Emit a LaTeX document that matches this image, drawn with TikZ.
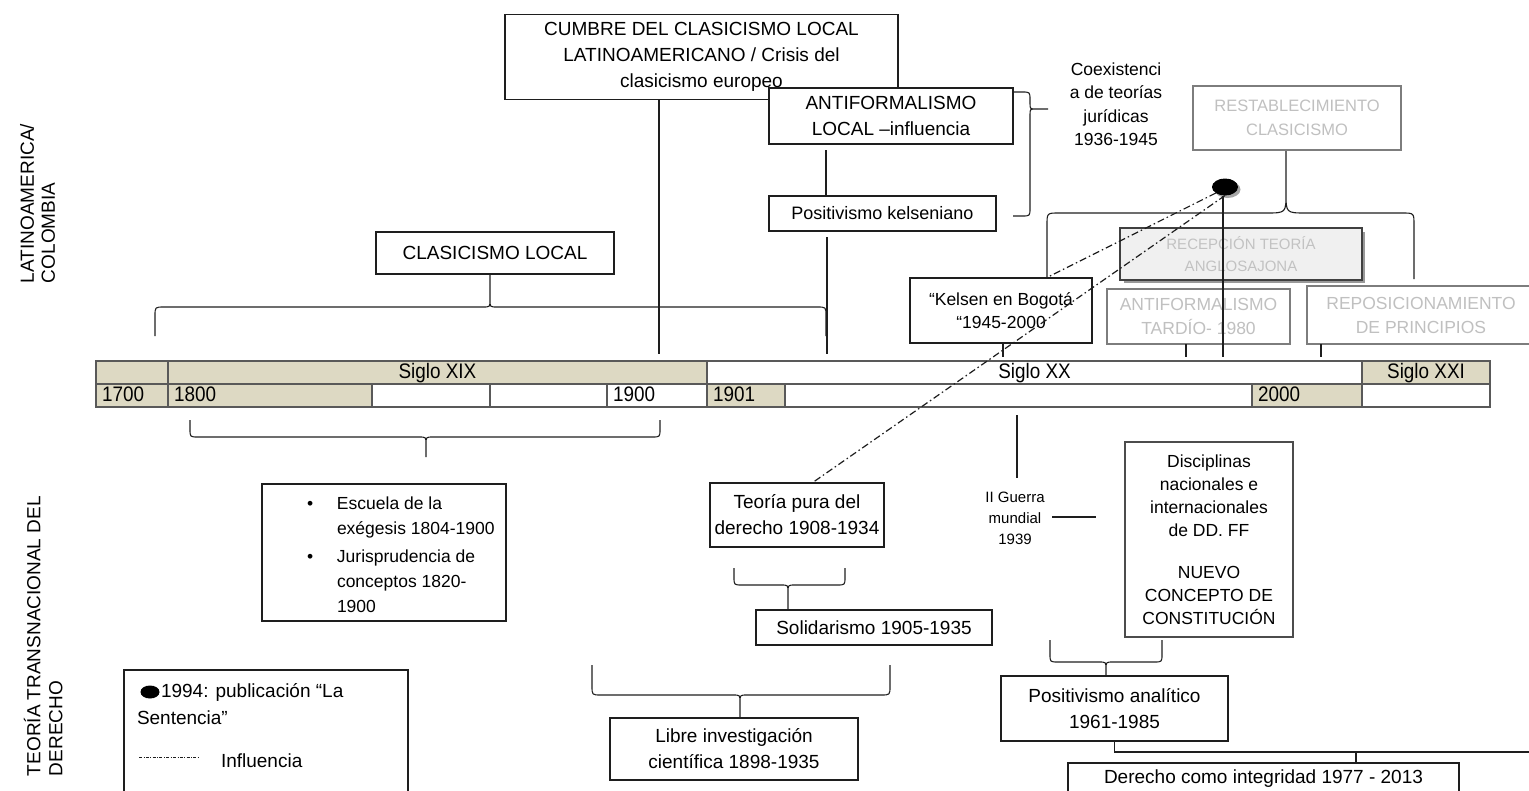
\documentclass[tikz,border=0pt]{standalone}
\usepackage{fontspec}
\setmainfont{Liberation Sans}
\newfontfamily\narrowsans[FakeStretch=0.9]{Liberation Sans}
\usetikzlibrary{calc,shapes.geometric}
\newcommand\fsz[2]{\fontsize{#1}{#2}\selectfont}

\definecolor{beige}{RGB}{221,217,195}
\definecolor{ink}{RGB}{30,30,30}
\definecolor{paleink}{RGB}{192,192,192}
\definecolor{greyframe}{RGB}{125,125,125}

% horizontal curly brace:
% #1 left x, #2 right x, #3 bar y, #4 leg end y, #5 tip x, #6 tip end y,
% #7 +1 when the legs hang below the bar, -1 when they rise above it,
% #8 leg bend, #9 tip bend
\newcommand\curlybrace[9]{%
  \draw[curl] (#1,#4) -- (#1,{#3+#8*(#7)}) .. controls (#1,#3) .. ({#1+#8},#3)
    -- ({#5-#9},#3) .. controls (#5,#3) .. (#5,{#3-#9*(#7)}) -- (#5,#6)
    (#5,{#3-#9*(#7)}) .. controls (#5,#3) .. ({#5+#9},#3)
    -- ({#2-#8},#3) .. controls (#2,#3) .. (#2,{#3+#8*(#7)}) -- (#2,#4);}

\begin{document}
\begin{tikzpicture}[x=1pt,y=-1pt,
  every node/.style={inner sep=0pt, outer sep=0pt},
  box/.style={draw=ink, line width=1.1pt, fill=white, align=center, font=\fsz{19}{26}},
  palebox/.style={box, draw=greyframe, text=paleink},
  cell/.style={draw=black!65, line width=1.1pt, minimum height=23pt, inner xsep=6pt,
    text height=15pt, text depth=4pt, font=\narrowsans\fsz{21}{23}},
  link/.style={draw=ink, line width=1.1pt},
  curl/.style={draw=ink, line width=1.1pt, line join=round},
  influence/.style={draw=ink, line width=1.2pt, dash pattern=on 7pt off 3pt on 1.5pt off 3pt},
]
\useasboundingbox (0,0) rectangle (1529,790);

% ---------- side labels ----------
\node[rotate=90, anchor=north west, align=left, font=\fsz{19}{21}] (latam) at (20,283)
  {LATINOAMERICA/\\COLOMBIA};
\node[rotate=90, anchor=north west, align=left, font=\fsz{19}{22}] (transnac) at (24,776)
  {TEORÍA TRANSNACIONAL DEL\\DERECHO};

% ---------- timeline ----------
\node[cell, fill=beige, minimum width=72pt]  (s18)  at (132,372.5) {};
\node[cell, fill=beige, minimum width=539pt] (s19)  at (437.5,372.5) {Siglo XIX};
\node[cell, fill=white, minimum width=655pt] (s20)  at (1034.5,372.5) {Siglo XX};
\node[cell, fill=beige, minimum width=128pt] (s21)  at (1426,372.5) {Siglo XXI};

\node[cell, fill=beige, text width=60pt, align=left]  (y1700) at (132,395.5) {1700};
\node[cell, fill=beige, text width=192pt, align=left] (y1800) at (270,395.5) {1800};
\node[cell, fill=white, minimum width=118pt] (ya) at (431,395.5) {};
\node[cell, fill=white, minimum width=117pt] (yb) at (548.5,395.5) {};
\node[cell, fill=white, text width=88pt, align=left]  (y1900) at (657,395.5) {1900};
\node[cell, fill=beige, text width=66pt, align=left]  (y1901) at (746,395.5) {1901};
\node[cell, fill=white, minimum width=467pt] (yc) at (1018.5,395.5) {};
\node[cell, fill=beige, text width=98pt, align=left]  (y2000) at (1307,395.5) {2000};
\node[cell, fill=white, minimum width=128pt] (yd) at (1426,395.5) {};

% ---------- upper band: Latin America / Colombia ----------
\curlybrace{155}{826}{307}{336}{490}{274}{1}{9}{7}
\curlybrace{1047}{1414}{213}{279}{1286}{150}{1}{12}{20}

\node[box, minimum width=393pt, minimum height=85pt] (cumbre) at (701.5,57)
  {CUMBRE DEL CLASICISMO LOCAL\\LATINOAMERICANO / Crisis del\\clasicismo europeo};
\node[box, minimum width=244pt, minimum height=56pt] (antiloc) at (891,116)
  {ANTIFORMALISMO\\LOCAL –influencia};
\node[box, font=\fsz{18}{22}, minimum width=227pt, minimum height=35pt] (poskel) at (882.5,213.5)
  {Positivismo kelseniano};
\node[box, minimum width=238pt, minimum height=42pt] (clasloc) at (495,253) {CLASICISMO LOCAL};

% brace gathering the two local currents
\draw[curl] (1013,92) -- (1022,92) .. controls (1030,92) .. (1030,100) -- (1030,103)
  .. controls (1030,109) .. (1036,109) -- (1048,109)
  (1036,109) .. controls (1030,109) .. (1030,115) -- (1030,208)
  .. controls (1030,216) .. (1022,216) -- (1013,216);
\node[font=\fsz{17.5}{23.5}, align=center] (coex) at (1116,104)
  {Coexistenci\\a de teorías\\jurídicas\\1936-1945};

\node[palebox, font=\fsz{16.5}{24}, minimum width=208pt, minimum height=64pt] (restab) at (1297,118)
  {RESTABLECIMIENTO\\CLASICISMO};
\fill[black!40] (1124,232) rectangle (1365,283);
\node[box, draw=black!75, fill=black!6, text=black!24, font=\fsz{15}{22},
  minimum width=242pt, minimum height=52pt] (recep) at (1241,254)
  {RECEPCIÓN TEORÍA\\ANGLOSAJONA};
\node[palebox, font=\fsz{17.5}{24}, minimum width=183pt, minimum height=55pt] (antitar) at (1198.5,316.5)
  {ANTIFORMALISMO\\TARDÍO- 1980};
\node[palebox, font=\fsz{17.5}{24}, minimum width=228pt, minimum height=58pt] (repos) at (1421,315)
  {REPOSICIONAMIENTO\\DE PRINCIPIOS};
\node[box, font=\fsz{17.5}{22.5}, minimum width=182pt, minimum height=65pt] (kelsen) at (1001,310.5)
  {“Kelsen en Bogotá\\“1945-2000};

% drops onto the timeline
\coordinate (k1) at (659,354);
\coordinate (k2) at (826,150);
\coordinate (k3) at (827,354);
\coordinate (k4) at (1003,357);
\coordinate (k5) at (1186,357);
\coordinate (k6) at (1321,357);
\draw[link] (cumbre.south -| k1) -- (k1);
\draw[link] (k2) -- (poskel.north -| k2);
\draw[link] ($(poskel.south -| k3)+(0,6)$) -- (k3);
\draw[link] (kelsen.south -| k4) -- (k4);
\draw[link] (antitar.south -| k5) -- (k5);
\draw[link] (repos.south -| k6) -- (k6);

% 1994 publication marker
\node[ellipse, fill=black!35, minimum width=26pt, minimum height=17pt] (pubshade) at (1227.5,189.5) {};
\node[ellipse, fill=black, minimum width=26pt, minimum height=17pt] (pub) at (1225,187) {};
\coordinate (pubfoot) at (1223,357);
\draw[link] (pub.south -| pubfoot) -- (pubfoot);

% ---------- lower band: transnational legal theory ----------
\curlybrace{190}{660}{437}{420}{426}{457}{-1}{8}{7}
\curlybrace{734}{845}{585}{568}{788}{610}{-1}{8}{7}
\curlybrace{592}{890}{695}{665}{740}{718}{-1}{9}{7}
\curlybrace{1050}{1162}{662}{640}{1106}{676}{-1}{8}{7}

\node[box, minimum width=244pt, minimum height=137pt] (escuela) at (384,552.5) {};
\begin{scope}
  \clip (escuela.south west) rectangle (escuela.north east);
  \node[anchor=north west, align=left, font=\fsz{17.5}{25}] (escuelatext) at (307,492)
  {\begin{tabular}{@{}p{30pt}@{}l@{}}
     \textbullet & Escuela de la\\
                 & exégesis 1804-1900\\[3pt]
     \textbullet & Jurisprudencia de\\
                 & conceptos 1820-\\
                 & 1900
   \end{tabular}};
\end{scope}

\node[box, minimum width=174pt, minimum height=64pt] (teoria) at (797,515)
  {Teoría pura del\\derecho 1908-1934};
\node[box, minimum width=236pt, minimum height=35pt] (solid) at (874,627.5) {Solidarismo 1905-1935};
\node[box, minimum width=248pt, minimum height=62pt] (libre) at (734,749)
  {Libre investigación\\científica 1898-1935};

\coordinate (g0) at (1017,415);
\coordinate (g1) at (1017,478);
\draw[link] (g0) -- (g1);
\node[font=\fsz{15}{21}, align=center] (guerra) at (1015,518) {II Guerra\\mundial\\1939};
\coordinate (g2) at (1052,517);
\coordinate (g3) at (1096,517);
\draw[link] (g2) -- (g3);

\node[box, draw=black!70, font=\fsz{17.5}{23}, minimum width=168pt, minimum height=195pt] (disc) at (1209,539.5)
  {Disciplinas\\nacionales e\\internacionales\\de DD. FF\\[19pt]NUEVO\\CONCEPTO DE\\CONSTITUCIÓN};

\node[box, minimum width=227pt, minimum height=65pt] (posan) at (1114.5,708.5)
  {Positivismo analítico\\1961-1985};
\node[box, minimum width=391pt, minimum height=32pt, anchor=north] (derecho) at (1263.5,763)
  {Derecho como integridad 1977 - 2013};
\coordinate (e1) at (1529,752);
\coordinate (e2) at (1356,752);
\draw[link] (posan.south) -- (posan.south |- e1) -- (e1);
\draw[link] (e2) -- (derecho.north -| e2);

% legend
\node[box, minimum width=284pt, minimum height=130pt] (legend) at (266,735) {};
\node[ellipse, fill=black, minimum width=19pt, minimum height=13pt] (legdot) at (150,692) {};
\node[anchor=west, font=\fsz{19}{26}] (legpub) at (161,692) {1994: publicación “La};
\node[anchor=west, font=\fsz{19}{26}] (legsent) at (137,718) {Sentencia”};
\coordinate (ls1) at (139,757);
\coordinate (ls2) at (199,757);
\draw[ink, line width=0.6pt, dash pattern=on 3pt off 1.5pt on 0.8pt off 1.5pt] (ls1) -- (ls2);
\node[anchor=west, font=\fsz{19}{26}] (leginf) at (221,761) {Influencia};

% influence lines from the 1994 publication
\coordinate (kb) at (1046,278);
\draw[influence] (pub.south west) -- (kb);
\draw[influence] (pub.south) -- (teoria.north -| 812,0);
\end{tikzpicture}
\end{document}
